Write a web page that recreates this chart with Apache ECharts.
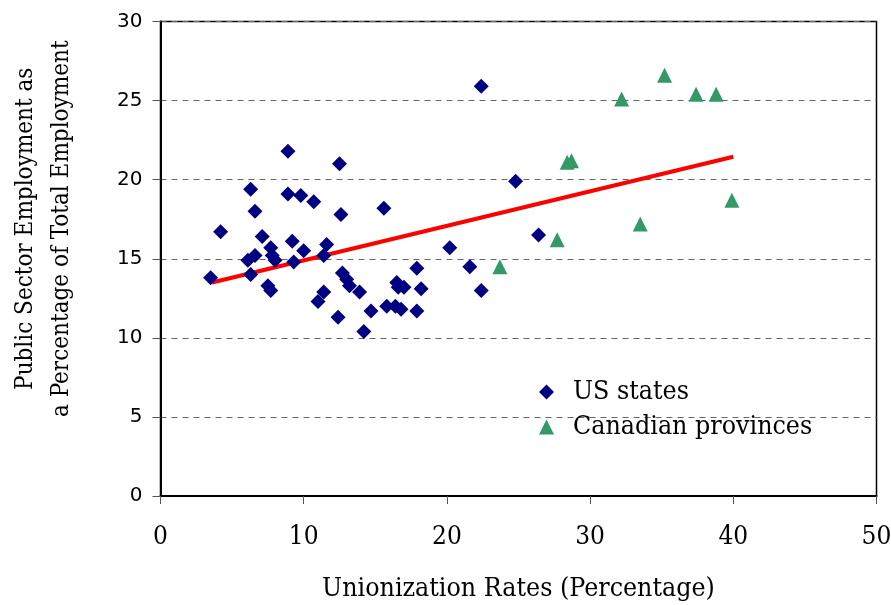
<!DOCTYPE html>
<html>
<head>
<meta charset="utf-8">
<script src="https://cdn.jsdelivr.net/npm/echarts@6/dist/echarts.min.js"></script>
<style>html,body{margin:0;padding:0;background:#fff}#chart{width:891px;height:605px}</style>
</head>
<body>
<div id="chart"></div>
<script>
const usUnion  = [8.9,12.5,6.3,8.9,9.8,10.7,6.6,12.6,4.2,7.1,9.2,11.6,7.7,10.0,7.8,8.0,6.6,6.1,9.3,11.4,3.5,6.3,12.7,13.0,13.2,7.5,7.7,11.4,11.0,12.4,13.9,14.2,15.6,20.2,21.6,17.9,16.5,16.6,17.0,18.2,15.8,16.4,16.8,17.9,14.7,22.4,22.4,24.8,26.4];
const usPublic = [21.8,21.0,19.4,19.1,19.0,18.6,18.0,17.8,16.7,16.4,16.1,15.9,15.7,15.5,15.2,14.9,15.2,14.9,14.8,15.2,13.8,14.0,14.1,13.7,13.3,13.3,13.0,12.9,12.3,11.3,12.9,10.4,18.2,15.7,14.5,14.4,13.5,13.2,13.2,13.1,12.0,12.0,11.8,11.7,11.7,13.0,25.9,19.9,16.5];
const caUnion  = [35.2,32.2,37.4,38.8,28.4,28.7,39.9,33.5,27.7,23.7];
const caPublic = [26.6,25.1,25.4,25.4,21.1,21.2,18.7,17.2,16.2,14.5];
const trendX = [3.6,40.0];
const trendY = [13.5,21.45];
const xTicks = [0,10,20,30,40,50];
const yTicks = [0,5,10,15,20,25,30];

const zip = (a,b) => a.map((v,i)=>[v,b[i]]);
const serif = 'DejaVu Serif Condensed';
const chart = echarts.init(document.getElementById('chart'), null, {renderer:'canvas'});
chart.setOption({
  animation:false,
  backgroundColor:'#fff',
  grid:{left:160.5,right:14.5,top:21.5,bottom:109,outerBoundsMode:'none',containLabel:false,show:true,borderColor:'#000',borderWidth:1.5,backgroundColor:'transparent'},
  xAxis:{
    type:'value',min:xTicks[0],max:xTicks[xTicks.length-1],interval:10,
    name:'Unionization Rates (Percentage)',nameLocation:'middle',nameGap:80,
    nameTextStyle:{fontFamily:serif,fontSize:26.5,color:'#000'},
    axisLine:{show:true,onZero:false,lineStyle:{color:'#000',width:2}},
    axisTick:{show:true,length:8,lineStyle:{color:'#555',width:1}},
    axisLabel:{fontFamily:serif,fontSize:26,color:'#000',margin:28},
    splitLine:{show:false}
  },
  yAxis:{
    type:'value',min:yTicks[0],max:yTicks[yTicks.length-1],interval:5,
    name:'Public Sector Employment as\na Percentage of Total Employment',nameLocation:'middle',nameGap:81,nameRotate:90,
    nameTextStyle:{fontFamily:serif,fontSize:24,color:'#000',lineHeight:36,padding:[0,0,0,60]},
    axisLine:{show:true,onZero:false,lineStyle:{color:'#000',width:2}},
    axisTick:{show:true,length:8,lineStyle:{color:'#555',width:1}},
    axisLabel:{fontFamily:'DejaVu Sans',fontSize:20,color:'#000',margin:18},
    splitLine:{show:true,lineStyle:{color:'#666',type:[6,5],width:1}}
  },
  legend:{
    data:['US states','Canadian provinces'],orient:'vertical',left:534,top:369,
    itemWidth:15,itemHeight:15,itemGap:-1,
    textStyle:{fontFamily:serif,fontSize:26.5,color:'#000',lineHeight:24,padding:[12,0,0,14]}
  },
  series:[
    {name:'trend',type:'line',data:zip(trendX,trendY),symbol:'none',lineStyle:{color:'#ff0000',width:4},z:1},
    {name:'US states',type:'scatter',data:zip(usUnion,usPublic),symbol:'diamond',symbolSize:15,itemStyle:{color:'#000080',opacity:1},z:3},
    {name:'Canadian provinces',type:'scatter',data:zip(caUnion,caPublic),symbol:'triangle',symbolSize:15,itemStyle:{color:'#339966',opacity:1},z:3}
  ]
});
</script>
</body>
</html>
